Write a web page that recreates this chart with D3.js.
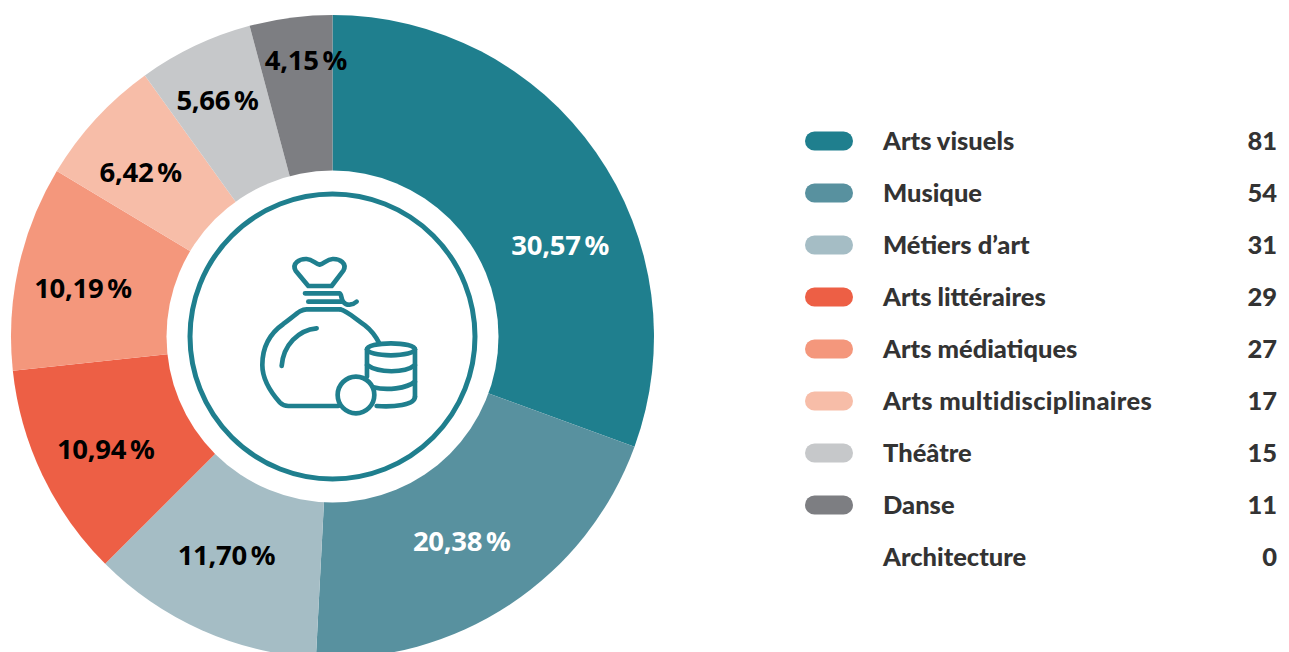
<!DOCTYPE html>
<html>
<head>
<meta charset="utf-8">
<script src="https://cdn.jsdelivr.net/npm/d3@7"></script>
<style>
  html, body { margin: 0; padding: 0; background: #fff; overflow: hidden; }
  svg { display: block; }
</style>
</head>
<body>
<svg id="chart" width="1289" height="652"></svg>
<script>
// chart values
const categories = ["Arts visuels", "Musique", "Métiers d’art", "Arts littéraires", "Arts médiatiques", "Arts multidisciplinaires", "Théâtre", "Danse", "Architecture"];
const counts = [81, 54, 31, 29, 27, 17, 15, 11, 0];
// slice sizes, they differ a little from the counts
const sliceShares = [30.57, 20.25, 11.68, 10.8, 10.3, 6.48, 5.77, 4.15, 0];
const percentLabels = ["30,57 %", "20,38 %", "11,70 %", "10,94 %", "10,19 %", "6,42 %", "5,66 %", "4,15 %", ""];
const colors = ["#1f7f8e", "#58919f", "#a5bdc5", "#ed5f45", "#f4977c", "#f7bda8", "#c6c8ca", "#7d7e82", "none"];
const labelColors = ["#fff", "#fff", "#000", "#000", "#000", "#000", "#000", "#000", "#000"];

const svg = d3.select("#chart");
const cx = 332.5, cy = 336.5, radius = 321.5;

const pie = d3.pie().sort(null).value((d) => d)(sliceShares);
const arc = d3.arc().innerRadius(0).outerRadius(radius);

const donut = svg.append("g").attr("transform", `translate(${cx},${cy})`);

donut
  .selectAll("path")
  .data(pie)
  .enter()
  .append("path")
  .attr("d", arc)
  .attr("fill", (d, i) => colors[i]);

// white hole and teal ring
donut.append("circle").attr("r", 166).attr("fill", "#fff");
donut
  .append("circle")
  .attr("r", 142.5)
  .attr("fill", "none")
  .attr("stroke", "#1f7f8e")
  .attr("stroke-width", 5);

// the percent labels were placed by hand in the original, not on the centroid
const labelNudge = [
  [38, 41], [1.5, 11], [-12, 6], [-18, 12], [-23.5, 1], [-21.5, -8], [-16, -27.5], [3.5, -48], [0, 0],
];
const labelArc = d3.arc().innerRadius(0).outerRadius(radius * 1.44);

donut
  .selectAll("text.pct")
  .data(pie)
  .enter()
  .append("text")
  .attr("class", "pct")
  .attr("x", (d, i) => labelArc.centroid(d)[0] + labelNudge[i][0])
  .attr("y", (d, i) => labelArc.centroid(d)[1] + labelNudge[i][1])
  .attr("text-anchor", "middle")
  .attr("dominant-baseline", "central")
  .attr("font-family", "'Noto Sans', sans-serif")
  .attr("font-weight", 700)
  .attr("font-size", 27.5)
  .attr("letter-spacing", -0.3)
  .attr("word-spacing", -3)
  .attr("fill", (d, i) => labelColors[i])
  .text((d, i) => percentLabels[i]);

// money bag icon, traced in a 3x space
const icon = svg
  .append("g")
  .attr("transform", "translate(170,180) scale(0.3333)")
  .attr("fill", "none")
  .attr("stroke", "#1f7f8e")
  .attr("stroke-width", 14)
  .attr("stroke-linecap", "round")
  .attr("stroke-linejoin", "round");

const iconPaths = [
  "M415,318 L485,318 L520,272 C532,250 510,236 488,237 C470,238 462,252 449,254 C436,252 428,238 410,237 C388,236 365,250 377,272 Z",
  "M405,340 L508,340 C516,342 512,356 520,366 C530,378 548,376 560,365",
  "M415,365 L515,365",
  "M510,388 L410,388 C392,388 380,402 340,432 C300,460 277,500 277,555 C277,600 305,640 330,668 C338,676 345,678 355,678 L505,678",
  "M510,388 C530,392 555,415 585,436 C603,450 617,468 628,490",
  "M440,445 C385,450 340,495 335,558",
  "M591,555 C625,580 705,580 735,555",
  "M610,622 C650,632 710,626 735,605",
  "M620,678 C670,682 735,675 735,650",
  "M735,508 L735,650",
  "M591,508 L591,590",
];

icon
  .selectAll("path")
  .data(iconPaths)
  .enter()
  .append("path")
  .attr("d", (d) => d);

icon.append("ellipse").attr("cx", 663).attr("cy", 508).attr("rx", 72).attr("ry", 18);
icon.append("circle").attr("cx", 558).attr("cy", 645).attr("r", 55).attr("fill", "#fff");

// legend
const legendY = d3.scalePoint().domain(categories).range([141, 557]);

const legend = svg
  .selectAll("g.legend-row")
  .data(categories)
  .enter()
  .append("g")
  .attr("class", "legend-row")
  .attr("transform", (d) => `translate(0,${legendY(d)})`);

legend
  .filter((d, i) => colors[i] !== "none")
  .append("rect")
  .attr("x", 805)
  .attr("y", -9.5)
  .attr("width", 48)
  .attr("height", 19)
  .attr("rx", 9.5)
  .attr("fill", (d) => colors[categories.indexOf(d)]);

legend
  .append("text")
  .attr("x", 883)
  .attr("y", -1)
  .attr("dominant-baseline", "central")
  .attr("font-family", "Lato, sans-serif")
  .attr("font-weight", 900)
  .attr("font-size", 25.5)
  .attr("letter-spacing", (d) => (d === "Arts multidisciplinaires" ? 0.35 : 0))
  .attr("fill", "#333")
  .text((d) => d);

legend
  .append("text")
  .attr("x", 1277)
  .attr("y", -1)
  .attr("text-anchor", "end")
  .attr("dominant-baseline", "central")
  .attr("font-family", "Lato, sans-serif")
  .attr("font-weight", 900)
  .attr("font-size", 25.5)
  .attr("fill", "#333")
  .text((d, i) => counts[i]);
</script>
</body>
</html>
